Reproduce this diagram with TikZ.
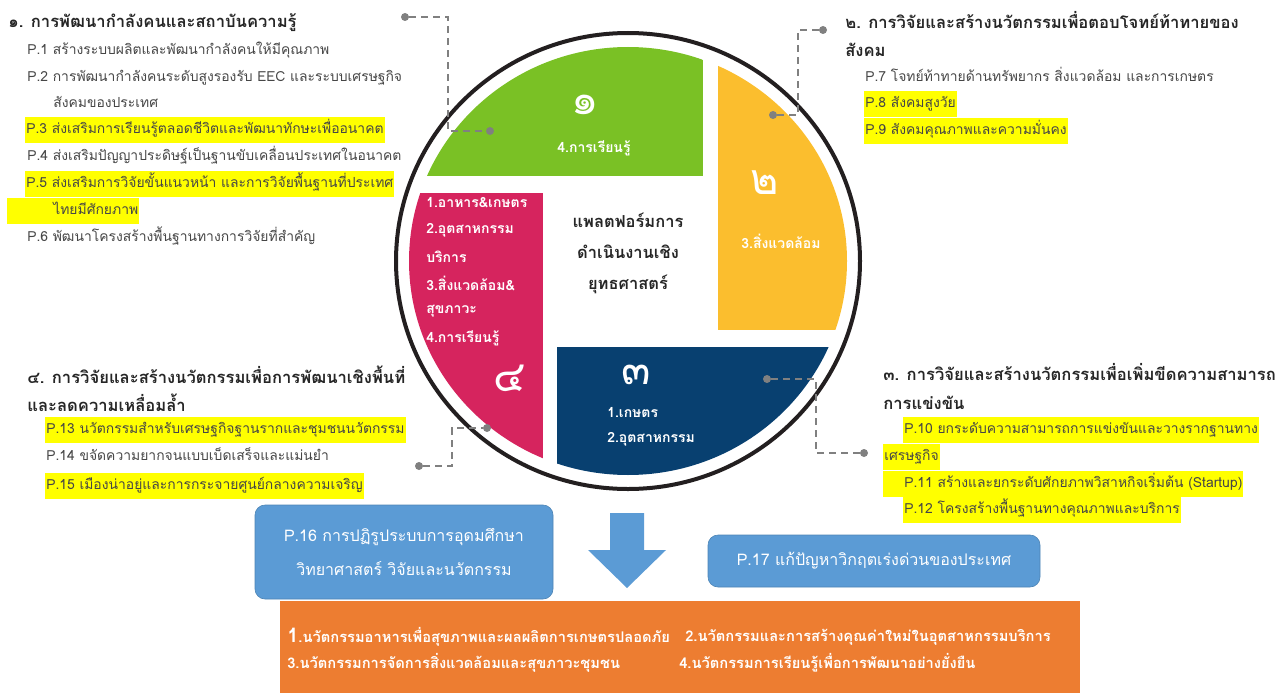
\documentclass[tikz,border=0pt]{standalone}
\usepackage{fontspec}
\setmainfont[Script=Thai]{Loma}
\usetikzlibrary{positioning}
\usetikzlibrary{calc}
\definecolor{leafgreen}{RGB}{122,193,37}
\definecolor{sunyellow}{RGB}{251,190,46}
\definecolor{deepnavy}{RGB}{8,64,112}
\definecolor{rosered}{RGB}{214,36,94}
\definecolor{ringdark}{RGB}{35,31,32}
\definecolor{linkgray}{RGB}{128,128,128}
\definecolor{boxblue}{RGB}{91,155,213}
\definecolor{goalorange}{RGB}{237,125,49}
\definecolor{hiyellow}{RGB}{255,255,0}
\definecolor{headink}{RGB}{38,38,38}
\definecolor{itemink}{RGB}{70,70,70}
\newcommand{\bignum}{\fontsize{43}{43}\selectfont}

\begin{document}
\begin{tikzpicture}[x=1pt,y=-1pt,semithick]
\tikzstyle{head}=[anchor=west,inner sep=0pt,text=headink,font=\bfseries\fontsize{16.6}{18}\selectfont]
\tikzstyle{item}=[anchor=west,inner xsep=1pt,inner ysep=4.5pt,text height=12.5pt,text depth=5pt,text=itemink,font=\fontsize{13.9}{15}\selectfont]
\tikzstyle{hilite}=[item,fill=hiyellow]
\tikzstyle{inlabel}=[anchor=west,inner sep=0pt,text=white,font=\bfseries\fontsize{14}{15}\selectfont]
\tikzstyle{numeral}=[inner sep=0pt,text=white,font=\bignum]
\tikzstyle{dot}=[circle,fill=linkgray,inner sep=0pt,minimum size=8pt]
\tikzstyle{link}=[draw=linkgray,line width=1.8pt,dash pattern=on 7pt off 5pt]
\tikzstyle{pbox}=[rounded corners=10pt,fill=boxblue,draw=boxblue!85!black,text=white,align=center,font=\fontsize{16}{34}\selectfont]
\tikzstyle{goal}=[anchor=west,inner sep=0pt,text=white,font=\bfseries\fontsize{14.7}{16}\selectfont]

\useasboundingbox (0,0) rectangle (1279,693);

% wheel
\coordinate (hub) at (628,261);
\begin{scope}
\clip (hub) ellipse [x radius=219, y radius=214];
\fill[leafgreen] (390,30) rectangle (703,176);
\fill[sunyellow] (718,30) rectangle (870,330);
\fill[deepnavy] (557,347) rectangle (870,500);
\fill[rosered] (390,193) rectangle (543,500);
\end{scope}
\draw[ringdark,line width=4pt] (hub) ellipse [x radius=232, y radius=228];

\node[numeral] (n1) at (585,105) {๑};
\node[inlabel,anchor=center] (q1) at (594,148) {4.การเรียนรู้};
\node[numeral] (n2) at (765,183) {๒};
\node[inlabel,anchor=center] (q2) at (781,241) {3.สิ่งแวดล้อม};
\node[numeral] (n3) at (636,375) {๓};
\node[inlabel] (q3a) at (607,412) {1.เกษตร};
\node[inlabel] (q3b) at (607,439) {2.อุตสาหกรรม};
\node[inlabel] (q4a) at (426,203) {1.อาหาร\&เกษตร};
\node[inlabel] (q4b) at (426,230) {2.อุตสาหกรรม};
\node[inlabel] (q4c) at (426,257) {บริการ};
\node[inlabel] (q4d) at (426,284) {3.สิ่งแวดล้อม\&};
\node[inlabel] (q4e) at (426,311) {สุขภาวะ};
\node[inlabel] (q4f) at (426,338) {4.การเรียนรู้};
\node[numeral] (n4) at (510,378) {๔};
\node[align=center,text=headink,font=\bfseries\fontsize{16.5}{31}\selectfont] (core) at (628,253) {แพลตฟอร์มการ\\ดำเนินงานเชิง\\ยุทธศาสตร์};

% strategy 1
\node[head] (h1) at (8,23) {๑. การพัฒนากำลังคนและสถาบันความรู้};
\node[item] (p1) at (26,51) {P.1 สร้างระบบผลิตและพัฒนากำลังคนให้มีคุณภาพ};
\node[item] (p2) at (26,78) {P.2 การพัฒนากำลังคนระดับสูงรองรับ EEC และระบบเศรษฐกิจ};
\node[item] (p2b) at (52,104) {สังคมของประเทศ};
\node[hilite] (p3) at (25,130) {P.3 ส่งเสริมการเรียนรู้ตลอดชีวิตและพัฒนาทักษะเพื่ออนาคต};
\node[item] (p4) at (26,157) {P.4 ส่งเสริมปัญญาประดิษฐ์เป็นฐานขับเคลื่อนประเทศในอนาคต};
\node[hilite] (p5) at (25,184) {P.5 ส่งเสริมการวิจัยขั้นแนวหน้า และการวิจัยพื้นฐานที่ประเทศ};
\node[hilite] (p5b) at (7,211) {\hspace*{45pt}ไทยมีศักยภาพ};
\node[item] (p6) at (26,238) {P.6 พัฒนาโครงสร้างพื้นฐานทางการวิจัยที่สำคัญ};

% strategy 2
\node[head] (h2) at (845,20) {๒. การวิจัยและสร้างนวัตกรรมเพื่อตอบโจทย์ท้าทายของ};
\node[head] (h2b) at (845,50) {สังคม};
\node[item] (p7) at (864,78) {P.7 โจทย์ท้าทายด้านทรัพยากร สิ่งแวดล้อม และการเกษตร};
\node[hilite] (p8) at (864,104) {P.8 สังคมสูงวัย};
\node[hilite] (p9) at (864,131) {P.9 สังคมคุณภาพและความมั่นคง};

% strategy 3
\node[head] (h3) at (883,372) {๓. การวิจัยและสร้างนวัตกรรมเพื่อเพิ่มขีดความสามารถ};
\node[head] (h3b) at (883,403) {การแข่งขัน};
\node[hilite] (p10) at (903,430) {P.10 ยกระดับความสามารถการแข่งขันและวางรากฐานทาง};
\node[hilite] (p10b) at (883,457) {เศรษฐกิจ};
\node[hilite] (p11) at (883,484) {\hspace*{20pt}P.11 สร้างและยกระดับศักยภาพวิสาหกิจเริ่มต้น (Startup)};
\node[hilite] (p12) at (903,510) {P.12 โครงสร้างพื้นฐานทางคุณภาพและบริการ};

% strategy 4
\node[head] (h4) at (27,375) {๔. การวิจัยและสร้างนวัตกรรมเพื่อการพัฒนาเชิงพื้นที่};
\node[head] (h4b) at (27,403) {และลดความเหลื่อมล้ำ};
\node[hilite] (p13) at (45,430) {P.13 นวัตกรรมสำหรับเศรษฐกิจฐานรากและชุมชนนวัตกรรม};
\node[item] (p14) at (45,457) {P.14 ขจัดความยากจนแบบเบ็ดเสร็จและแม่นยำ};
\node[hilite] (p15) at (45,486) {P.15 เมืองน่าอยู่และการกระจายศูนย์กลางความเจริญ};

% leaders
\node[dot] (d1) at (405,17) {};
\node[dot] (e1) at (490,131) {};
\coordinate (k1) at (448,17);
\draw[link] (d1) -- (k1) |- (e1);
\node[dot] (d2) at (823,30) {};
\node[dot] (e2) at (773,115) {};
\coordinate (k2) at (798,30);
\draw[link] (d2) -- (k2) |- (e2);
\node[dot] (d3) at (767,379) {};
\node[dot] (e3) at (864,453) {};
\coordinate (k3) at (816,379);
\draw[link] (d3) -- (k3) |- (e3);
\node[dot] (d4) at (419,466) {};
\node[dot] (e4) at (487,428) {};
\coordinate (k4) at (452,466);
\draw[link] (d4) -- (k4) |- (e4);

% bottom
\node[pbox,minimum width=298pt,minimum height=94pt] (pb16) at (404,552) {P.16 การปฏิรูประบบการอุดมศึกษา\\วิทยาศาสตร์ วิจัยและนวัตกรรม};
\node[pbox,minimum width=332pt,minimum height=52pt] (pb17) at (874,561) {P.17 แก้ปัญหาวิกฤตเร่งด่วนของประเทศ};
\fill[boxblue] (610,513) -- (644,513) -- (644,550) -- (666,550) -- (627,588) -- (588,550) -- (610,550) -- cycle;
\fill[goalorange] (280,601) rectangle (1080,700);
\node[goal] (g1) at (287,637) {{\fontsize{20}{20}\selectfont 1}.นวัตกรรมอาหารเพื่อสุขภาพและผลผลิตการเกษตรปลอดภัย};
\node[goal] (g2) at (685,637) {2.นวัตกรรมและการสร้างคุณค่าใหม่ในอุตสาหกรรมบริการ};
\node[goal] (g3) at (287,663) {3.นวัตกรรมการจัดการสิ่งแวดล้อมและสุขภาวะชุมชน};
\node[goal] (g4) at (679,663) {4.นวัตกรรมการเรียนรู้เพื่อการพัฒนาอย่างยั่งยืน};
\end{tikzpicture}
\end{document}
